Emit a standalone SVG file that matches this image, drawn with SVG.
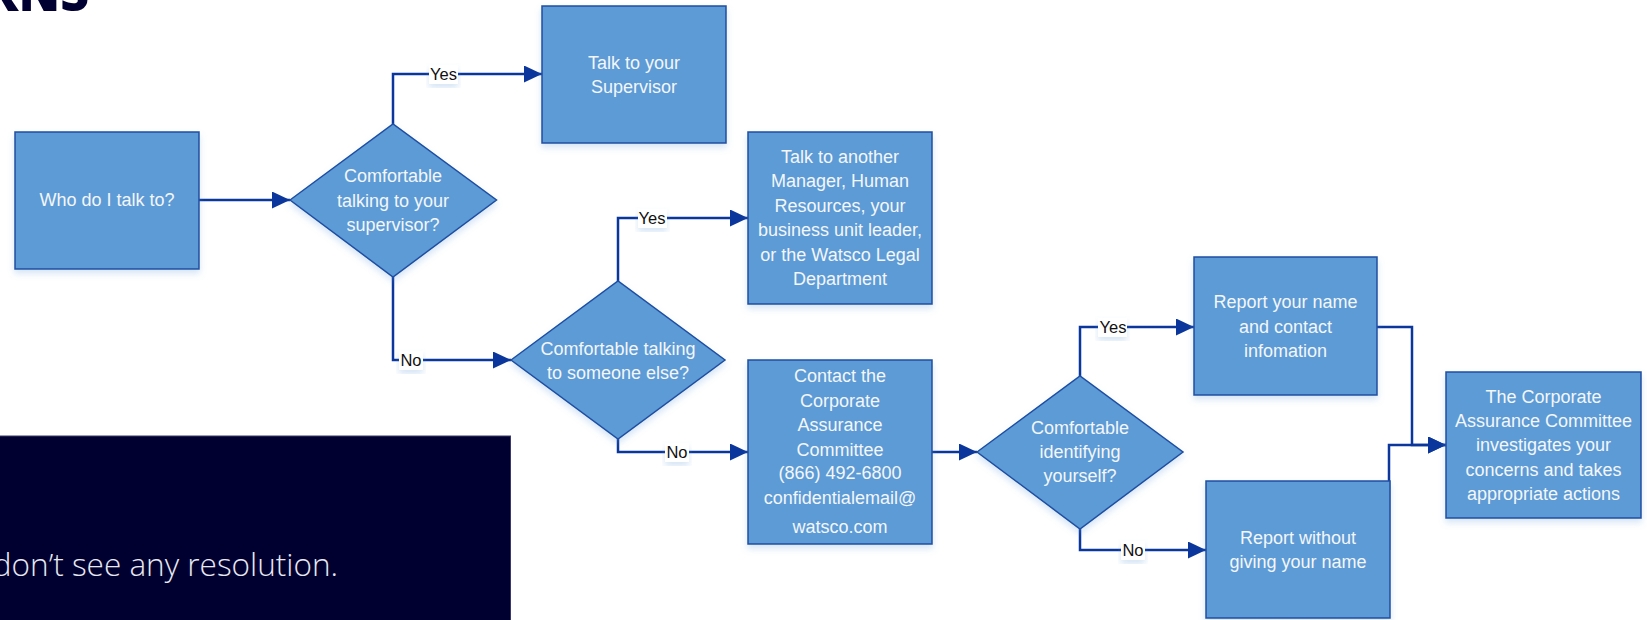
<svg xmlns="http://www.w3.org/2000/svg" width="1647" height="620" viewBox="0 0 1647 620">
<style>
.node{fill:#5B9BD5;stroke:#1F4EA3;stroke-width:1.5;filter:url(#sh)}
.nt{font-family:"Liberation Sans",Arial,sans-serif;font-size:18px;fill:#F4F6FA;text-anchor:middle}
.con{fill:none;stroke:#0B379C;stroke-width:2.5}
.lbg{fill:#FFFFFF;filter:url(#sh)}
.lt{font-family:"Liberation Sans",Arial,sans-serif;font-size:16.5px;fill:#111111;text-anchor:middle}
</style>
<defs>
<filter id="sh" x="-10%" y="-10%" width="120%" height="130%">
<feDropShadow dx="0" dy="4" stdDeviation="3" flood-color="#5B9BD5" flood-opacity="0.25"/>
</filter>
<marker id="ah" markerUnits="userSpaceOnUse" markerWidth="18" markerHeight="18" refX="18" refY="8.5" orient="auto">
<path d="M0,0 L18,8.5 L0,17 z" fill="#0B379C"/>
</marker>
</defs>
<rect width="1647" height="620" fill="#FFFFFF"/>
<text x="89" y="11" font-family="'Open Sans',sans-serif" font-weight="800" font-size="50" fill="#000033" text-anchor="end">RNS</text>
<g id="panel">
<rect x="-2" y="436" width="512.5" height="190" fill="#000030" stroke="#3A3A6A" stroke-width="1"/>
<text x="338" y="576" font-family="'Open Sans',sans-serif" font-weight="300" font-size="31.5" fill="#E8E8F0" text-anchor="end">don’t see any resolution.</text>
</g>
<g id="connectors">
<path class="con" d="M199,200 H290" marker-end="url(#ah)"/>
<path class="con" d="M393,124 V74 H542" marker-end="url(#ah)"/>
<path class="con" d="M393,277 V360 H511" marker-end="url(#ah)"/>
<path class="con" d="M618,281 V218 H748" marker-end="url(#ah)"/>
<path class="con" d="M618,439 V452 H748" marker-end="url(#ah)"/>
<path class="con" d="M932,452 H977" marker-end="url(#ah)"/>
<path class="con" d="M1080,376 V327 H1194" marker-end="url(#ah)"/>
<path class="con" d="M1080,529 V550 H1206" marker-end="url(#ah)"/>
<path class="con" d="M1377,327 H1412 V445 H1446" marker-end="url(#ah)"/>
<path class="con" d="M1389,550 V445 H1446" marker-end="url(#ah)"/>
<g id="labels">
<rect class="lbg" x="429" y="65" width="29" height="19"/><text class="lt" x="443.5" y="80">Yes</text>
<rect class="lbg" x="399" y="351" width="24" height="19"/><text class="lt" x="411" y="366">No</text>
<rect class="lbg" x="638" y="209" width="29" height="19"/><text class="lt" x="652" y="224">Yes</text>
<rect class="lbg" x="665" y="443" width="24" height="19"/><text class="lt" x="677" y="458">No</text>
<rect class="lbg" x="1098" y="318" width="29" height="19"/><text class="lt" x="1113" y="333">Yes</text>
<rect class="lbg" x="1121" y="541" width="24" height="19"/><text class="lt" x="1133" y="556">No</text>
</g>
</g>
<g id="n1"><rect class="node" x="15" y="132" width="184" height="137"/>
<text class="nt" x="107" y="206">Who do I talk to?</text></g>
<g id="d1"><polygon class="node" points="290,200 393,124 496.5,200 393,277"/>
<text class="nt" x="393" y="182">Comfortable</text><text class="nt" x="393" y="207">talking to your</text><text class="nt" x="393" y="231">supervisor?</text></g>
<g id="n2"><rect class="node" x="542" y="6" width="184" height="137"/>
<text class="nt" x="634" y="69">Talk to your</text><text class="nt" x="634" y="93">Supervisor</text></g>
<g id="n3"><rect class="node" x="748" y="132" width="184" height="172"/>
<text class="nt" x="840" y="163">Talk to another</text><text class="nt" x="840" y="187">Manager, Human</text><text class="nt" x="840" y="212">Resources, your</text><text class="nt" x="840" y="236">business unit leader,</text><text class="nt" x="840" y="261">or the Watsco Legal</text><text class="nt" x="840" y="285">Department</text></g>
<g id="d2"><polygon class="node" points="511,360 618,281 725,360 618,439"/>
<text class="nt" x="618" y="355">Comfortable talking</text><text class="nt" x="618" y="379">to someone else?</text></g>
<g id="n4"><rect class="node" x="748" y="360" width="184" height="184"/>
<text class="nt" x="840" y="382">Contact the</text><text class="nt" x="840" y="407">Corporate</text><text class="nt" x="840" y="431">Assurance</text><text class="nt" x="840" y="456">Committee</text><text class="nt" x="840" y="479">(866) 492-6800</text><text class="nt" x="840" y="504">confidentialemail@</text><text class="nt" x="840" y="533">watsco.com</text></g>
<g id="d3"><polygon class="node" points="977,452 1080,376 1183,452 1080,529"/>
<text class="nt" x="1080" y="434">Comfortable</text><text class="nt" x="1080" y="458">identifying</text><text class="nt" x="1080" y="482">yourself?</text></g>
<g id="n5"><rect class="node" x="1194" y="257" width="183" height="138"/>
<text class="nt" x="1285.5" y="308">Report your name</text><text class="nt" x="1285.5" y="333">and contact</text><text class="nt" x="1285.5" y="357">infomation</text></g>
<g id="n6"><rect class="node" x="1206" y="481" width="184" height="137"/>
<text class="nt" x="1298" y="544">Report without</text><text class="nt" x="1298" y="568">giving your name</text></g>
<g id="n7"><rect class="node" x="1446" y="372" width="195" height="146"/>
<text class="nt" x="1543.5" y="403">The Corporate</text><text class="nt" x="1543.5" y="427">Assurance Committee</text><text class="nt" x="1543.5" y="451">investigates your</text><text class="nt" x="1543.5" y="476">concerns and takes</text><text class="nt" x="1543.5" y="500">appropriate actions</text></g>
</svg>
